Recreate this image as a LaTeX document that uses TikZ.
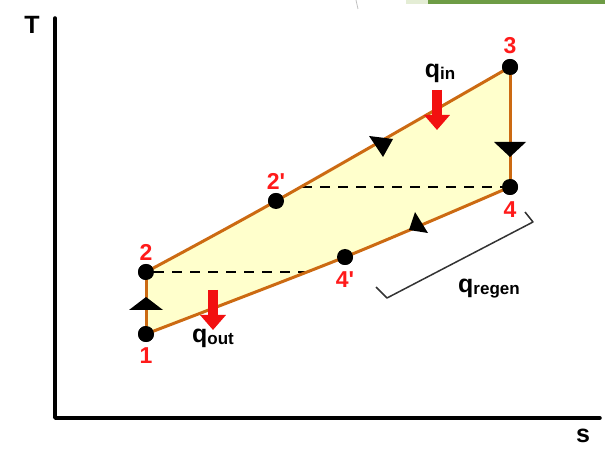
\documentclass[tikz,border=0pt]{standalone}
\usepackage{fontspec}
\setmainfont{Liberation Sans}
\usetikzlibrary{positioning, arrows.meta}
\definecolor{cycleline}{HTML}{CC6A12}
\definecolor{cyclefill}{HTML}{FFFFCC}
\definecolor{statered}{HTML}{FF1A1A}
\definecolor{heatred}{HTML}{F21010}
\definecolor{bargreen}{HTML}{6E9C45}
\definecolor{barlight}{HTML}{E4EDD5}
\newcommand{\qsub}[1]{q\raisebox{-2pt}{\fontsize{17}{17}\selectfont #1}}

\begin{document}
\begin{tikzpicture}[x=1pt, y=-1pt,
    axis/.style={line width=3.5pt, line join=round, line cap=round},
    proc/.style={draw=cycleline, line width=3pt},
    dot/.style={circle, fill=black, inner sep=0pt, minimum size=16pt},
    state/.style={font=\fontsize{23}{23}\selectfont\bfseries, text=statered, inner sep=1pt},
    heat/.style={font=\fontsize{25}{25}\selectfont\bfseries, inner sep=1pt},
    regen/.style={dash pattern=on 10pt off 8pt, line width=1.8pt},
    hot/.style={-{Triangle[length=15pt, width=25pt]}, line width=10pt, heatred},
    bracket/.style={draw=black!80, line width=1.5pt, line join=round}
]
    \useasboundingbox (0,0) rectangle (605,454);

    % === stray strip at the top ===
    \fill[barlight] (406,0) rectangle (428,4);
    \fill[bargreen] (428,0) rectangle (605,4);
    \draw[black!25, line width=0.8pt] (356,0) -- (358,9);

    % === axes ===
    \coordinate (ytop) at (55,18);
    \coordinate (orig) at (55,418);
    \coordinate (xend) at (600,418);
    \draw[axis] (ytop) -- (orig) -- (xend);
    \node[heat] (tlab) at (32,25) {T};
    \node[heat] (slab) at (583,436) {s};

    % === states ===
    \node[dot] (p1)  at (146,334) {};
    \node[dot] (p2)  at (146,272) {};
    \node[dot] (p2r) at (276,201) {};
    \node[dot] (p3)  at (510,67) {};
    \node[dot] (p4)  at (510,187) {};
    \node[dot] (p4r) at (345,257) {};
    \coordinate (m1) at (306,272);
    \coordinate (u1) at (302,187);

    % --- cycle area ---
    \fill[cyclefill] plot[smooth] coordinates {(p2.center) (p2r.center) (p3.center)}
        -- (p4.center) -- plot[smooth] coordinates {(p4.center) (p4r.center) (p1.center)} -- cycle;

    % --- regenerator lines ---
    \draw[regen] (p2) -- (m1);
    \draw[regen] (u1) -- (p4);

    % --- processes ---
    \draw[proc] (p1.center) -- (p2.center);
    \draw[proc] plot[smooth] coordinates {(p2.center) (p2r.center) (p3.center)};
    \draw[proc] (p3.center) -- (p4.center);
    \draw[proc] plot[smooth] coordinates {(p4.center) (p4r.center) (p1.center)};

    % --- direction marks ---
    \fill (129,310) -- (163,310) -- (146,297) -- cycle;
    \fill (369,136) -- (393,139) -- (383,157) -- cycle;
    \fill (494,142) -- (526,142) -- (510,157) -- cycle;
    \fill (415,212) -- (409,230) -- (428,233) -- cycle;

    % --- dots on top ---
    \foreach \p in {p1,p2,p2r,p3,p4,p4r}
        \fill (\p) circle (8pt);

    % === state labels ===
    \node[state, below=4pt of p1]  (l1)  {1};
    \node[state, above=2pt of p2]  (l2)  {2};
    \node[state, above=2pt of p2r] (l2r) {2\textquotesingle};
    \node[state, above=4pt of p3]  (l3)  {3};
    \node[state, below=5pt of p4]  (l4)  {4};
    \node[state, below=5pt of p4r] (l4r) {4\textquotesingle};

    % === heat flows ===
    \coordinate (qin1) at (437,90);
    \coordinate (qin2) at (437,130);
    \draw[hot] (qin1) -- (qin2);
    \node[heat] (qin) at (440,73) {\qsub{in}};

    \coordinate (qout1) at (213,290);
    \coordinate (qout2) at (213,330);
    \draw[hot] (qout1) -- (qout2);
    \node[heat] (qout) at (213,338) {\qsub{out}};

    % --- regenerated heat ---
    \coordinate (b1) at (376,287);
    \coordinate (b2) at (387,298);
    \coordinate (b3) at (533,222);
    \coordinate (b4) at (525,212);
    \draw[bracket] (b1) -- (b2) -- (b3) -- (b4);
    \node[heat] (qreg) at (489,289) {\qsub{regen}};
\end{tikzpicture}
\end{document}
